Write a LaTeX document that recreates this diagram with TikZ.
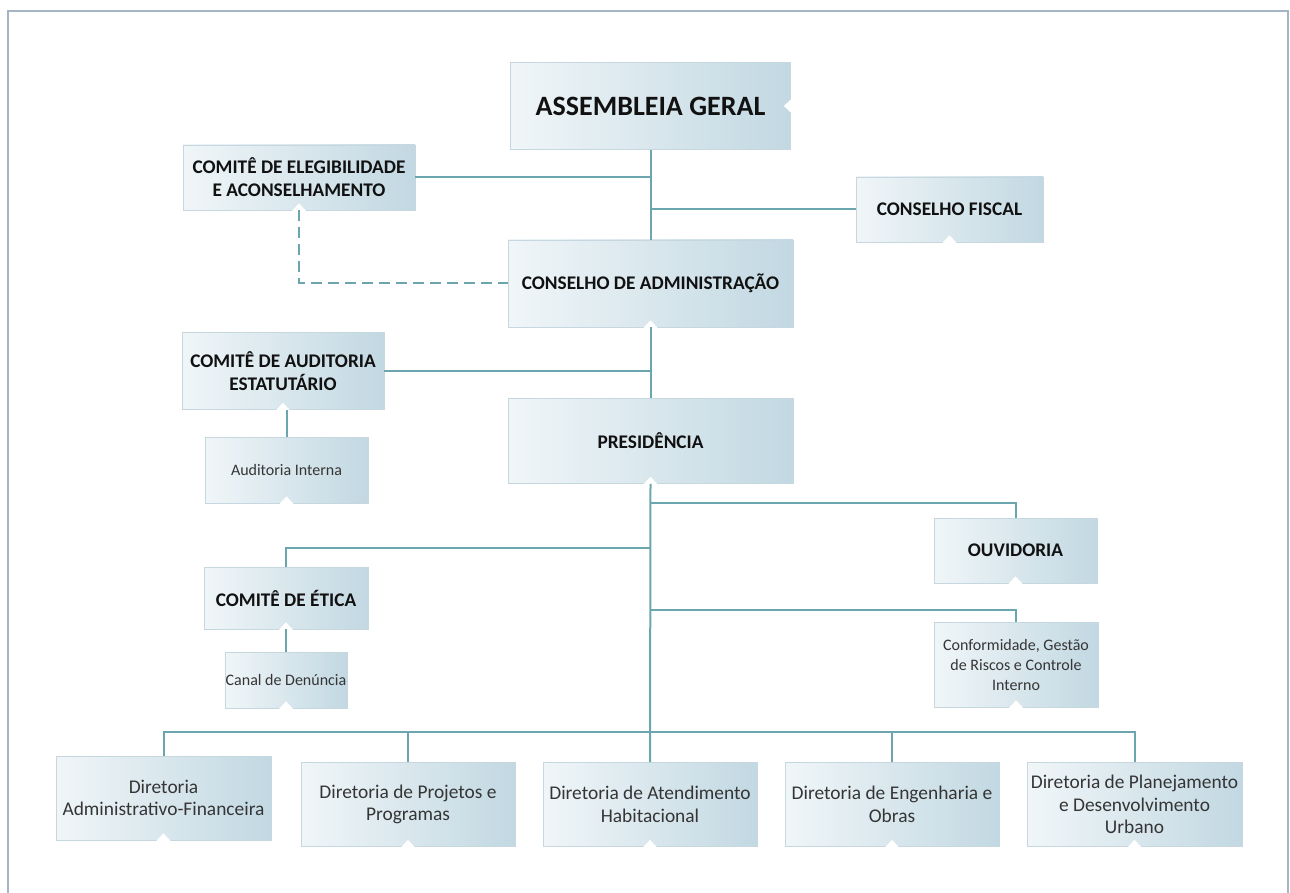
\documentclass[tikz,border=0pt]{standalone}
\usepackage{fontspec}
\setmainfont{Carlito}
\usetikzlibrary{positioning, calc}
\definecolor{BoxLight}{HTML}{F0F6F8}
\definecolor{BoxDark}{HTML}{C2D8E2}
\definecolor{BoxEdge}{HTML}{C6D7DF}
\definecolor{Link}{HTML}{6BA6AE}
\definecolor{Frame}{HTML}{A5B5C3}
\definecolor{Ink}{HTML}{111111}
\tikzset{
    orgbox/.style={rectangle, left color=BoxLight, right color=BoxDark, draw=BoxEdge, line width=0.6pt, align=center, text=Ink, inner sep=0pt},
    titlebox/.style={orgbox, font=\bfseries\fontsize{19.3}{23}\selectfont},
    smallbox/.style={orgbox, font=\fontsize{16}{20}\selectfont, text=Ink!85},
    dirbox/.style={orgbox, font=\fontsize{19.4}{22.5}\selectfont, text=Ink!85, minimum width=214pt, minimum height=84pt},
    link/.style={Link, line width=2pt},
    dashlink/.style={link, dash pattern=on 11pt off 6pt},
}

\begin{document}
\begin{tikzpicture}[x=1pt, y=-1pt]
    \useasboundingbox (0,0) rectangle (1290,893);
    % Cornice
    \draw[Frame, line width=1.5pt] (8,893) -- (8,11) -- (1288,11) -- (1288,893);

    % --- Vertice ---
    \node[orgbox, font=\bfseries\fontsize{28}{33}\selectfont, minimum width=280pt, minimum height=87pt] (ag) at (650.5,106) {ASSEMBLEIA GERAL};
    \node[titlebox, minimum width=232pt, minimum height=65pt] (cea) at (299,177.5) {COMITÊ DE ELEGIBILIDADE\\E ACONSELHAMENTO};
    \node[titlebox, minimum width=187pt, minimum height=65pt] (cf) at (949.5,209.5) {CONSELHO FISCAL};
    \node[titlebox, minimum width=285pt, minimum height=87pt] (ca) at (650.5,283.5) {CONSELHO DE ADMINISTRAÇÃO};

    % --- Auditoria ---
    \node[titlebox, minimum width=202pt, minimum height=77pt] (cae) at (283,371) {COMITÊ DE AUDITORIA\\ESTATUTÁRIO};
    \node[smallbox, minimum width=163pt, minimum height=66pt] (ai) at (286.5,470) {Auditoria Interna};
    \node[titlebox, minimum width=285pt, minimum height=85pt] (pres) at (650.5,441) {PRESIDÊNCIA};

    % --- Ramo centrale ---
    \node[titlebox, minimum width=163pt, minimum height=65pt] (ouv) at (1015.5,550.5) {OUVIDORIA};
    \node[titlebox, minimum width=164pt, minimum height=62pt] (cet) at (286,598) {COMITÊ DE ÉTICA};
    \node[smallbox, minimum width=122pt, minimum height=56pt] (cd) at (286,680) {Canal de Denúncia};
    \node[smallbox, minimum width=164pt, minimum height=85pt] (conf) at (1016,664.5) {Conformidade, Gestão\\de Riscos e Controle\\Interno};

    % --- Diretorias ---
    \node[dirbox, minimum width=215pt] (dafin) at (163.5,798) {Diretoria\\Administrativo-Financeira};
    \node[dirbox] (dproj) at (408,804.5) {Diretoria de Projetos e\\Programas};
    \node[dirbox] (datend) at (650,804.5) {Diretoria de Atendimento\\Habitacional};
    \node[dirbox] (deng) at (892,804.5) {Diretoria de Engenharia e\\Obras};
    \node[dirbox, minimum width=215pt] (dplan) at (1134.5,804.5) {Diretoria de Planejamento\\e Desenvolvimento\\Urbano};

    % Tacche bianche
    \foreach \n in {cea, cf, ca, pres, cae, ai, cet, cd, ouv, conf, dafin, dproj, datend, deng, dplan}
        \fill[white] ([xshift=-7pt, yshift=-0.5pt]\n.south) -- ([yshift=7pt]\n.south) -- ([xshift=7pt, yshift=-0.5pt]\n.south) -- cycle;
    \fill[white] ([xshift=0.5pt, yshift=7pt]ag.east) -- ([xshift=-7pt]ag.east) -- ([xshift=0.5pt, yshift=-7pt]ag.east) -- cycle;

    % --- Collegamenti ---
    \coordinate (busO) at (651,503);
    \coordinate (busE) at (651,548);
    \coordinate (busC) at (651,610);
    \coordinate (busD) at (651,732);

    \draw[link] (ag.south) -- (ca.north);
    \draw[link] (ca.south) -- (pres.north);
    \draw[link] (pres.south) -- (datend.north);
    \draw[link] (cea.east) -- (ag.south |- cea.east);
    \draw[link] (cf.west) -- (ag.south |- cf.west);
    \draw[dashlink] (cea.south) |- (ca.west);
    \draw[link] (cae.east) -- (ca.south |- cae.east);
    \draw[link] (ai.north |- cae.south) -- (ai.north);
    \draw[link] (busO) -| (ouv.north);
    \draw[link] (cet.north) |- (busE);
    \draw[link] (cet.south) -- (cd.north);
    \draw[link] (busC) -| (conf.north);
    \draw[link] (dafin.north) |- (busD) -| (dplan.north);
    \foreach \d in {dproj, deng}
        \draw[link] (\d.north |- busD) -- (\d.north);
\end{tikzpicture}
\end{document}
